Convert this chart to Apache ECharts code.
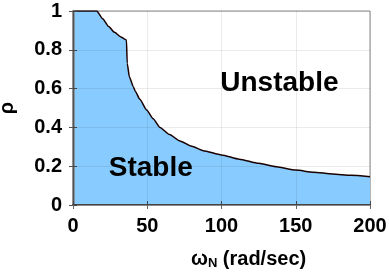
<!DOCTYPE html>
<html>
<head>
<meta charset="utf-8">
<script src="https://cdn.jsdelivr.net/npm/echarts@6/dist/echarts.min.js"></script>
<style>
  html, body { margin: 0; padding: 0; background: #fff; }
  #chart { width: 389px; height: 273px; }
</style>
</head>
<body>
<div id="chart"></div>
<script>
// stability boundary
const omega = [0, 16, 20, 24, 28, 32, 36, 36.5, 38, 40.6, 42, 45, 49.6, 54, 58.6, 65, 72, 80, 87.7, 100, 112, 125, 137, 150, 162, 175, 187, 200]
const rho = [1, 1, 0.96, 0.92, 0.89, 0.867, 0.85, 0.73, 0.66, 0.61, 0.585, 0.545, 0.49, 0.445, 0.40, 0.363, 0.33, 0.303, 0.28, 0.258, 0.236, 0.215, 0.197, 0.18, 0.169, 0.16, 0.153, 0.146]
const xTicks = [0, 50, 100, 150, 200]
const yTicks = [0, 0.2, 0.4, 0.6, 0.8, 1]
const regionLabels = [
  { name: 'Unstable', x: 139, y: 0.626 },
  { name: 'Stable', x: 52.4, y: 0.19 }
]

const font = 'Liberation Sans, Arial, sans-serif'
const chart = echarts.init(document.getElementById('chart'))

const option = {
  animation: false,
  grid: {
    left: 73, right: 19, top: 11, bottom: 68,
    outerBoundsMode: 'none',
    containLabel: false,
    show: true, borderColor: '#8a8a8a', borderWidth: 1
  },
  xAxis: [{
    type: 'value', min: 0, max: 200, interval: 50, z: 5,
    axisLine: { show: true, lineStyle: { color: '#444', width: 2 } },
    axisTick: { inside: true, length: 4, lineStyle: { color: '#444' } },
    splitLine: { show: true, lineStyle: { color: 'rgba(0,0,0,0.08)' } },
    axisLabel: { margin: 11, color: '#000', fontWeight: 'bold', fontSize: 20, fontFamily: font,
      formatter: v => (xTicks.includes(v) ? String(v) : '') }
  }, {
    type: 'value', min: 0, max: 200, interval: 50, position: 'top', z: 5,
    axisLine: { show: true, lineStyle: { color: '#8a8a8a', width: 1 } },
    axisTick: { inside: true, length: 4, lineStyle: { color: '#666' } },
    splitLine: { show: false }, axisLabel: { show: false }
  }],
  yAxis: [{
    type: 'value', min: 0, max: 1, interval: 0.2, z: 5,
    name: 'ρ', nameLocation: 'middle', nameGap: 56, nameRotate: 90,
    nameTextStyle: { color: '#000', fontWeight: 'bold', fontSize: 20, fontFamily: font },
    axisLine: { show: true, lineStyle: { color: '#808080', width: 2.5 } },
    axisTick: { inside: true, length: 4, lineStyle: { color: '#444' } },
    splitLine: { show: true, lineStyle: { color: 'rgba(0,0,0,0.08)' } },
    axisLabel: { margin: 11, color: '#000', fontWeight: 'bold', fontSize: 20, fontFamily: font,
      formatter: v => (yTicks.includes(v) ? String(v) : '') }
  }, {
    type: 'value', min: 0, max: 1, interval: 0.2, position: 'right', z: 5,
    axisLine: { show: true, lineStyle: { color: '#555', width: 1 } },
    axisTick: { inside: true, length: 4, lineStyle: { color: '#555' } },
    splitLine: { show: false }, axisLabel: { show: false }
  }],
  graphic: [{
    type: 'text', left: 191, top: 249,
    style: {
      text: '{w|ω}{s|N}{t| (rad/sec)}',
      rich: {
        w: { fontSize: 20, fontWeight: 'bold', fontFamily: font, fill: '#000' },
        s: { fontSize: 13, fontWeight: 'bold', fontFamily: font, fill: '#000', padding: [8, 0, 0, 0] },
        t: { fontSize: 20, fontWeight: 'bold', fontFamily: font, fill: '#000' }
      }
    }
  }],
  series: [{
    type: 'line',
    data: omega.map((x, i) => [x, rho[i]]),
    symbol: 'none',
    smooth: 0.2,
    smoothMonotone: 'x',
    lineStyle: { color: '#1a0000', width: 1.5 },
    areaStyle: { color: '#88CCFF', opacity: 1 }
  }, {
    type: 'scatter',
    symbolSize: 0,
    z: 6,
    itemStyle: { opacity: 1 },
    data: regionLabels.map(d => ({ name: d.name, value: [d.x, d.y] })),
    label: {
      show: true, position: 'inside', formatter: '{b}', opacity: 1,
      color: '#000', fontWeight: 'bold', fontSize: 28, fontFamily: font
    }
  }]
}

chart.setOption(option)
</script>
</body>
</html>
